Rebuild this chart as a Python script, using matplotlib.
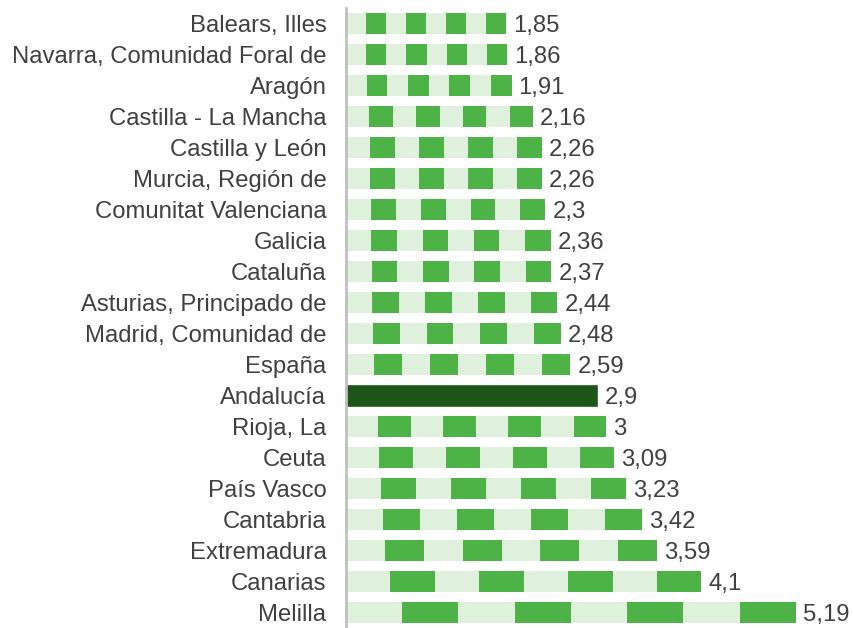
import matplotlib.pyplot as plt

regions = ["Balears, Illes", "Navarra, Comunidad Foral de", "Aragón", "Castilla - La Mancha",
           "Castilla y León", "Murcia, Región de", "Comunitat Valenciana", "Galicia", "Cataluña",
           "Asturias, Principado de", "Madrid, Comunidad de", "España", "Andalucía", "Rioja, La",
           "Ceuta", "País Vasco", "Cantabria", "Extremadura", "Canarias", "Melilla"]
values = [1.85, 1.86, 1.91, 2.16, 2.26, 2.26, 2.3, 2.36, 2.37, 2.44, 2.48, 2.59, 2.9, 3,
          3.09, 3.23, 3.42, 3.59, 4.1, 5.19]
highlight = "Andalucía"

light = "#dff0dc"
green = "#4db346"
dark = "#1e561a"
text_col = "#404040"
n_seg = 8

plt.rcParams['font.family'] = ['Liberation Sans', 'DejaVu Sans']

fig = plt.figure(figsize=(8.54, 6.28), dpi=100)
ax = fig.add_axes([0.405, 0.0, 0.59, 620 / 628])

ys = list(range(len(values)))[::-1]
for y, name, v in zip(ys, regions, values):
    if name == highlight:
        ax.barh(y, v, height=0.65, color=dark, edgecolor="#3a6e35", linewidth=0.6)
    else:
        w = v / n_seg
        for i in range(n_seg):
            ax.barh(y, w, left=i * w, height=0.65,
                    color=light if i % 2 == 0 else green, linewidth=0)
    ax.text(v + 0.08, y, f"{v:g}".replace(".", ","), va="center_baseline", ha="left",
            fontsize=17.2, color=text_col)

ax.set_yticks(ys)
ax.set_yticklabels(regions, fontsize=17.2, color=text_col, va="center_baseline")
ax.tick_params(axis="y", length=0, pad=14)
ax.set_xticks([])
ax.set_xlim(0, 5.81)
ax.set_ylim(-0.5, len(values) - 0.5)
for s in ["top", "right", "bottom"]:
    ax.spines[s].set_visible(False)
ax.spines["left"].set_color("#bfbfbf")
ax.spines["left"].set_linewidth(2)

fig.savefig("out.png", dpi=100)
